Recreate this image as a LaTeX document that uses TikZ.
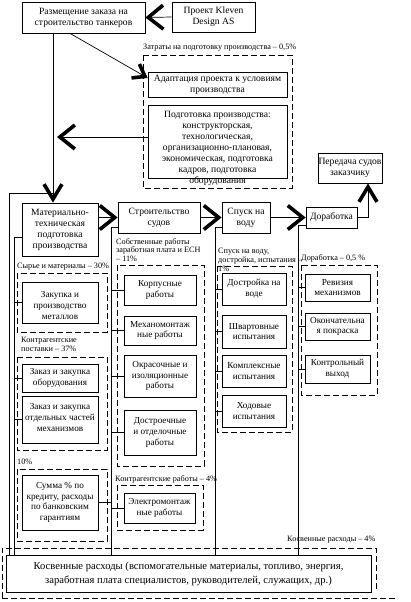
\documentclass[tikz,border=0pt]{standalone}
\usepackage{fontspec}
\setmainfont{Liberation Serif}
\usetikzlibrary{arrows.meta,calc}
\newcommand\fmain{\fontsize{9.6}{11}\selectfont}
\newcommand\fsub{\fontsize{9.2}{10.8}\selectfont}
\newcommand\flab{\fontsize{8.2}{8.8}\selectfont}
\newcommand\fbig{\fontsize{10.6}{14}\selectfont}
\newcommand\bx[5]{%
  \pgfmathsetmacro\bw{#4-#2}\pgfmathsetmacro\bh{#5-#3}%
  \node[box,minimum width=\bw pt,minimum height=\bh pt] (#1) at ({(#2+#4)/2},{(#3+#5)/2}) {};}
\begin{document}
\begin{tikzpicture}[x=1pt,y=-1pt,
  box/.style={draw,line width=0.7pt,inner sep=0pt},
  dbox/.style={draw,line width=0.7pt,dash pattern=on 6pt off 3pt},
  txt/.style={align=center,inner sep=0pt},
  lab/.style={align=left,inner sep=0pt,anchor=west,font=\flab},
  conn/.style={line width=0.7pt},
  big/.style={conn,-{Straight Barb[length=15pt,width=24pt,line width=3.6pt]}},
  bigs/.style={conn,-{Straight Barb[length=15pt,width=18pt,line width=3.6pt]}}
]
\useasboundingbox (0,0) rectangle (410,602);
% main boxes
\bx{raz}{22}{2}{145}{33}
\bx{kle}{172}{2}{255}{32}
\bx{ada}{148}{72}{287}{97}
\bx{pod}{148}{105}{287}{178}
\bx{per}{318}{153}{382}{183}
\bx{mat}{22}{203}{98}{256}
\bx{str}{118}{202}{200}{233}
\bx{spu}{222}{202}{270}{233}
\bx{dor}{306}{207}{357}{228}
\bx{a1}{22}{282}{98}{323}
\bx{a2}{22}{364}{98}{392}
\bx{a3}{22}{396}{98}{443}
\bx{a4}{22}{475}{98}{530}
\bx{b1}{124}{275}{196}{305}
\bx{b2}{124}{316}{196}{345}
\bx{b3}{124}{355}{196}{397}
\bx{b4}{124}{410}{196}{455}
\bx{b5}{124}{493}{195}{523}
\bx{c1}{222}{273}{286}{305}
\bx{c2}{222}{315}{286}{348}
\bx{c3}{222}{355}{286}{387}
\bx{c4}{222}{395}{286}{427}
\bx{d1}{305}{274}{370}{301}
\bx{d2}{305}{313}{370}{340}
\bx{d3}{305}{355}{370}{383}
\bx{kos}{6}{555}{371}{592}
% texts
\node[txt,font=\fmain] (razt) at (raz) {Размещение заказа на\\строительство танкеров};
\node[txt,font=\fmain] (klet) at (kle) {Проект Kleven\\Design AS};
\node[txt,font=\fmain] (adat) at (ada) {Адаптация проекта к условиям\\производства};
\node[txt,font=\fmain] (podt) at ([yshift=-6.5pt]pod.center) {Подготовка производства:\\конструкторская,\\технологическая,\\организационно-плановая,\\экономическая, подготовка\\кадров, подготовка\\оборудования};
\node[txt,font=\fmain] (pert) at (per) {Передача судов\\заказчику};
\node[txt,font=\fmain] (matt) at (mat) {Материально-\\техническая\\подготовка\\производства};
\node[txt,font=\fmain] (strt) at (str) {Строительство\\судов};
\node[txt,font=\fmain] (sput) at (spu) {Спуск на\\воду};
\node[txt,font=\fmain] (dort) at (dor) {Доработка};
\node[txt,font=\fsub] (a1t) at ([yshift=-3pt]a1.center) {Закупка и\\производство\\металлов};
\node[txt,font=\fsub] (a2t) at (a2) {Заказ и закупка\\оборудования};
\node[txt,font=\fsub] (a3t) at ([yshift=2pt]a3.center) {Заказ и закупка\\отдельных частей\\механизмов};
\node[txt,font=\fsub] (a4t) at (a4) {Сумма \% по\\кредиту, расходы\\по банковским\\гарантиям};
\node[txt,font=\fsub] (b1t) at (b1) {Корпусные\\работы};
\node[txt,font=\fsub] (b2t) at (b2) {Механомонтаж\\ные работы};
\node[txt,font=\fsub] (b3t) at (b3) {Окрасочные и\\изоляционные\\работы};
\node[txt,font=\fsub] (b4t) at (b4) {Достроечные\\и отделочные\\работы};
\node[txt,font=\fsub] (b5t) at (b5) {Электромонтаж\\ные работы};
\node[txt,font=\fsub] (c1t) at (c1) {Достройка на\\воде};
\node[txt,font=\fsub] (c2t) at (c2) {Швартовные\\испытания};
\node[txt,font=\fsub] (c3t) at (c3) {Комплексные\\испытания};
\node[txt,font=\fsub] (c4t) at (c4) {Ходовые\\испытания};
\node[txt,font=\fsub] (d1t) at (d1) {Ревизия\\механизмов};
\node[txt,font=\fsub] (d2t) at (d2) {Окончательна\\я покраска};
\node[txt,font=\fsub] (d3t) at (d3) {Контрольный\\выход};
\node[txt,font=\fbig] (kost) at (kos) {Косвенные расходы (вспомогательные материалы, топливо, энергия,\\заработная плата специалистов, руководителей, служащих, др.)};
% dashed groups
\draw[dbox] (143,55) rectangle (292,188);
\draw[dbox] (17,273) rectangle (107,332);
\draw[dbox] (17,357) rectangle (107,450);
\draw[dbox] (17,469) rectangle (107,541);
\draw[dbox] (117,265) rectangle (204,466);
\draw[dbox] (117,485) rectangle (203,530);
\draw[dbox] (217,266) rectangle (292,432);
\draw[dbox] (301,265) rectangle (377,395);
\draw[dbox] (2,598) -- (2,548) -- (376,548) -- (376,590);
\draw[dbox] (2,598) -- (397,598);
% labels
\node[lab] (l0) at (143,48) {Затраты на подготовку производства – 0,5\%};
\node[lab] (l1) at (17,267) {Сырье и материалы – 30\%};
\node[lab] (l2) at (21,344.5) {Контрагентские\\поставки – 37\%};
\node[lab] (l3) at (17,462) {10\%};
\node[lab] (l4) at (116,250) {Собственные работы\\заработная плата и ЕСН\\– 11\%};
\node[lab] (l5) at (115,479) {Контрагентские работы – 4\%};
\node[lab] (l6) at (218,260) {Спуск на воду,\\достройка, испытания –\\1\%};
\node[lab] (l7) at (301,258) {Доработка – 0,5 \%};
\node[lab] (l8) at (287,540) {Косвенные расходы – 4\%};
% coordinates
\coordinate (j1) at (53,193);
\coordinate (c9) at (9,193);
\coordinate (c14) at (14,237);
\coordinate (c111) at (111,227);
\coordinate (c215) at (215,227);
\coordinate (c298) at (298,225);
\coordinate (c368) at (368,217.5);
\coordinate (c57) at (57,137);
\coordinate (dS) at (70,33);
\coordinate (dE) at (148,78);
% connectors
\draw[big] (kle.west) -- (raz.east);
\draw[bigs] (j1 |- raz.south) -- (j1 |- mat.north);
\draw[conn] (j1) -- (c9) -- (c9 |- kos.north);
\draw[conn,-{Straight Barb[length=11pt,width=16pt,line width=3.6pt]}] (raz.south -| dS) -- (ada.west |- dE);
\draw[big] (pod.west |- c57) -- (c57);
\draw[big] (mat.east |- str.west) -- (str.west);
\draw[big] (str.east |- spu.west) -- (spu.west);
\draw[big] (spu.east |- dor.west) -- (dor.west);
\draw[bigs] (dor.east) -- (c368) -- (c368 |- per.south);
% column lines
\draw[conn] (mat.west |- c14) -- (c14) -- (c14 |- kos.north);
\draw[conn] (str.west |- c111) -- (c111) -- (c111 |- kos.north);
\draw[conn] (spu.west |- c215) -- (c215) -- (c215 |- kos.north);
\draw[conn] (dor.west |- c298) -- (c298) -- (c298 |- kos.north);
\foreach \n in {a1,a2,a3} \draw[conn] (c14 |- \n.west) -- (\n.west);
\foreach \n in {b1,b2,b3,b4,b5} \draw[conn] (c111 |- \n.west) -- (\n.west);
\draw[conn] (a4.east) -- (c111 |- a4.east);
\foreach \n in {c1,c2,c3,c4} \draw[conn] (c215 |- \n.west) -- (\n.west);
\foreach \n in {d1,d2,d3} \draw[conn] (c298 |- \n.west) -- (\n.west);
\end{tikzpicture}
\end{document}
